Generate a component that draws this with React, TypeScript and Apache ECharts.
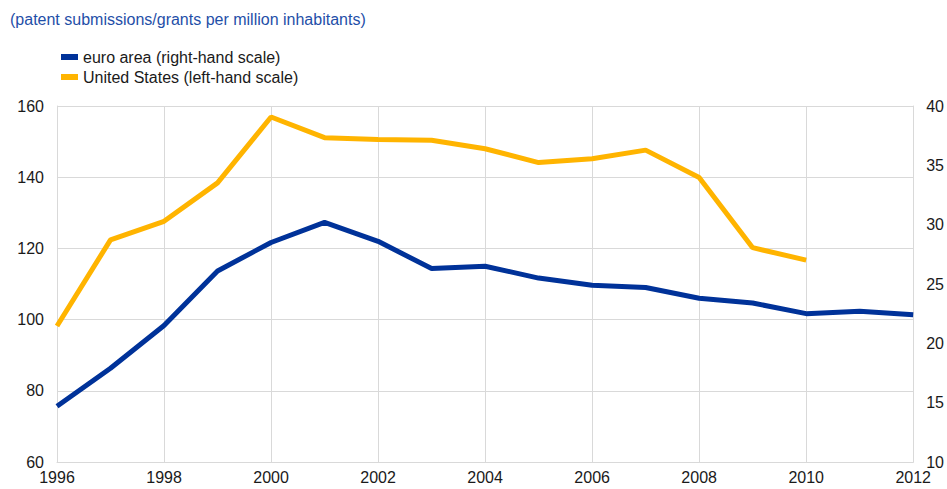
import React, { useEffect, useRef } from "react";
import * as echarts from "echarts";

const years = [1996, 1997, 1998, 1999, 2000, 2001, 2002, 2003, 2004, 2005, 2006, 2007, 2008, 2009, 2010, 2011, 2012];
const euroArea = [14.7, 17.9, 21.5, 26.1, 28.5, 30.2, 28.6, 26.3, 26.5, 25.5, 24.9, 24.7, 23.8, 23.4, 22.5, 22.7, 22.4];
const unitedStates = [98.2, 122.4, 127.6, 138.4, 156.9, 151.1, 150.6, 150.4, 148.0, 144.1, 145.2, 147.6, 139.9, 120.2, 116.7, null, null];
const leftTicks = { min: 60, max: 160, interval: 20 };
const rightTicks = { min: 10, max: 40, interval: 5 };

const FONT = "'Liberation Sans', Arial, sans-serif";

export default function App() {
  const ref = useRef<HTMLDivElement>(null);
  useEffect(() => {
    if (!ref.current) return;
    const chart = echarts.init(ref.current, undefined, { renderer: "svg" });
    const pairs = (vals: (number | null)[]) =>
      years.map((y, i) => [y, vals[i]]).filter((p) => p[1] !== null);
    chart.setOption({
      animation: false,
      textStyle: { fontFamily: FONT },
      graphic: [
        {
          type: "text",
          left: 10,
          top: 11,
          style: {
            text: "(patent submissions/grants per million inhabitants)",
            fill: "#1f4fa8",
            font: `16px ${FONT}`,
          },
        },
      ],
      legend: {
        orient: "vertical",
        left: 56,
        top: 44,
        itemWidth: 17,
        itemHeight: 6,
        itemGap: 4,
        icon: "rect",
        textStyle: { fontFamily: FONT, fontSize: 16, color: "#1a1a1a" },
        data: ["euro area (right-hand scale)", "United States (left-hand scale)"],
      },
      grid: { left: 57, right: 31, top: 106, bottom: 27, containLabel: false },
      xAxis: {
        type: "value",
        min: 1996,
        max: 2012,
        interval: 2,
        axisLine: { show: true, lineStyle: { color: "#d9d9d9", width: 1 } },
        axisTick: { show: false },
        splitLine: { show: true, lineStyle: { color: "#d9d9d9", width: 1 } },
        axisLabel: {
          color: "#1a1a1a",
          fontSize: 16,
          fontFamily: FONT,
          margin: 7,
          formatter: (v: number) => String(v),
        },
      },
      yAxis: [
        {
          type: "value",
          position: "left",
          ...leftTicks,
          axisLine: { show: true, lineStyle: { color: "#d9d9d9" } },
          axisTick: { show: false },
          splitLine: { show: true, lineStyle: { color: "#d9d9d9", width: 1 } },
          axisLabel: { color: "#1a1a1a", fontSize: 16, fontFamily: FONT, margin: 13 },
        },
        {
          type: "value",
          position: "right",
          ...rightTicks,
          axisLine: { show: true, lineStyle: { color: "#d9d9d9" } },
          axisTick: { show: false },
          splitLine: { show: false },
          axisLabel: { color: "#1a1a1a", fontSize: 16, fontFamily: FONT, margin: 13 },
        },
      ],
      series: [
        {
          name: "euro area (right-hand scale)",
          type: "line",
          yAxisIndex: 1,
          data: pairs(euroArea),
          showSymbol: false,
          symbol: "none",
          lineStyle: { color: "#003299", width: 5 },
          itemStyle: { color: "#003299" },
          z: 3,
        },
        {
          name: "United States (left-hand scale)",
          type: "line",
          yAxisIndex: 0,
          data: pairs(unitedStates),
          showSymbol: false,
          symbol: "none",
          lineStyle: { color: "#FFB400", width: 5 },
          itemStyle: { color: "#FFB400" },
          z: 2,
        },
      ],
    });
    return () => chart.dispose();
  }, []);
  return <div ref={ref} style={{ width: 947, height: 489, position: "absolute", left: 0, top: 0 }} />;
}
